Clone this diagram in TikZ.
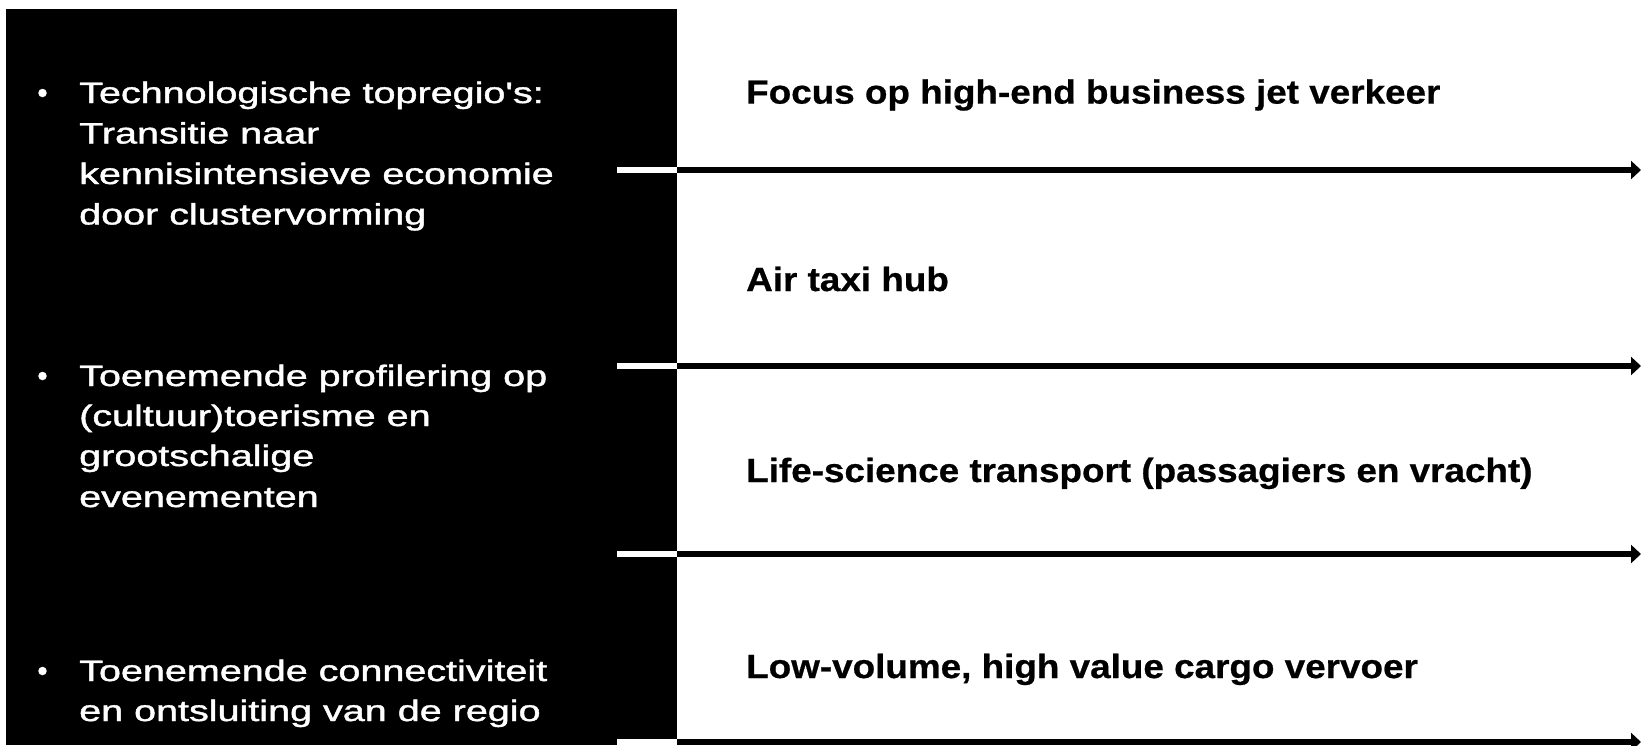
\documentclass[tikz,border=0pt]{standalone}
\usepackage{fontspec}
\setmainfont{Liberation Sans}
\newfontfamily\leftfont[FakeBold=1.2]{Liberation Sans}
\newfontfamily\rightfont[FakeBold=0.6]{Liberation Sans Bold}
\usetikzlibrary{arrows.meta}
\newcommand\lline[1]{\scalebox{1.34}[1]{#1}}
\newcommand\rline[1]{\scalebox{1.1}[1]{#1}}
\begin{document}
\begin{tikzpicture}[x=1pt,y=-1pt,
  lefttext/.style={anchor=base west, inner sep=0pt, text=white, font=\leftfont\fontsize{29.5}{35}\selectfont},
  righttext/.style={anchor=base west, inner sep=0pt, text=black, font=\rightfont\fontsize{33.5}{40}\selectfont},
  flow/.style={line width=5.5pt, -{Triangle[length=10pt,width=18pt]}},
  whiteseg/.style={line width=5.5pt, white},
  bulletdot/.style={circle, fill=white, inner sep=0pt, minimum size=8.5pt}]
\useasboundingbox (0,0) rectangle (1643,745);
\fill[white] (0,0) rectangle (1643,745);
\node[fill=black, inner sep=0pt, minimum width=671pt, minimum height=736pt, anchor=north west] (panel) at (6,9) {};

% arrows
\coordinate (s1) at (617,170); \coordinate (e1) at (1641,170);
\coordinate (s2) at (617,366); \coordinate (e2) at (1641,366);
\coordinate (s3) at (617,554); \coordinate (e3) at (1641,554);
\coordinate (s4) at (617,742); \coordinate (e4) at (1641,742);
\foreach \i in {1,2,3,4}{
  \draw[flow] (s\i) -- (e\i);
  \draw[whiteseg] (s\i) -- (panel.east |- s\i);
}

% left bullets
\node[bulletdot] (b1) at (42.5,93) {};
\node[bulletdot] (b2) at (42.5,376) {};
\node[bulletdot] (b3) at (42.5,671) {};

\node[lefttext] (l11) at (79,103) {\lline{Technologische topregio\textquotesingle s:}};
\node[lefttext] (l12) at (79,143.5) {\lline{Transitie naar}};
\node[lefttext] (l13) at (79,184) {\lline{kennisintensieve economie}};
\node[lefttext] (l14) at (79,224.5) {\lline{door clustervorming}};

\node[lefttext] (l21) at (79,386) {\lline{Toenemende profilering op}};
\node[lefttext] (l22) at (79,426) {\lline{(cultuur)toerisme en}};
\node[lefttext] (l23) at (79,466) {\lline{grootschalige}};
\node[lefttext] (l24) at (79,507) {\lline{evenementen}};

\node[lefttext] (l31) at (79,681) {\lline{Toenemende connectiviteit}};
\node[lefttext] (l32) at (79,721) {\lline{en ontsluiting van de regio}};

% right labels
\node[righttext] (r1) at (746,103.6) {\rline{Focus op high-end business jet verkeer}};
\node[righttext] (r2) at (746,291) {\rline{Air taxi hub}};
\node[righttext] (r3) at (746,482) {\rline{Life-science transport (passagiers en vracht)}};
\node[righttext] (r4) at (746,678) {\rline{Low-volume, high value cargo vervoer}};
\end{tikzpicture}
\end{document}
